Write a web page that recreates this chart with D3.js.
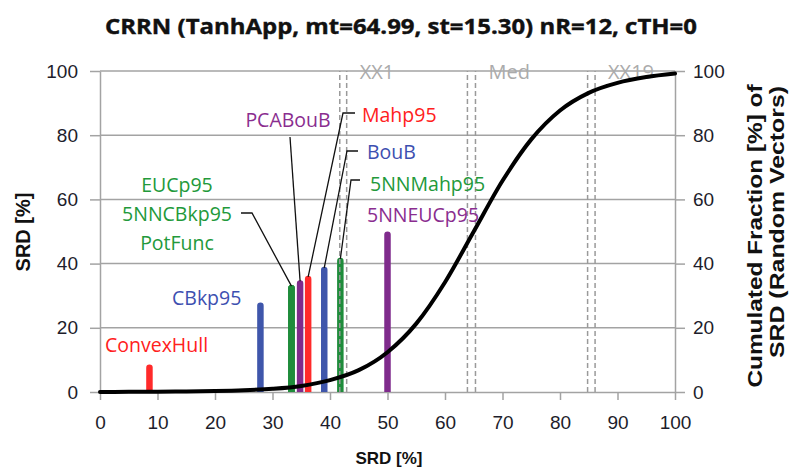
<!DOCTYPE html>
<html>
<head>
<meta charset="utf-8">
<script src="https://cdn.jsdelivr.net/npm/d3@7"></script>
<style>
  html, body { margin: 0; padding: 0; background: #fff; }
  svg { display: block; }
</style>
</head>
<body>
<svg id="chart" width="798" height="468"></svg>
<script>
// SRD of each method (bar is placed at its SRD and is as tall as its SRD)
const methodNames = ["ConvexHull", "CBkp95", "EUCp95", "5NNCBkp95", "PotFunc",
                     "PCABouB", "Mahp95", "BouB", "5NNMahp95", "5NNEUCp95"];
const methodSRD   = [8.6, 27.9, 33.3, 33.3, 33.3, 34.8, 36.2, 39.0, 41.8, 50.0];

// Cumulated fraction of SRD for random vectors
const cdfSRD  = [0, 5, 10, 15, 20, 25, 30, 35, 40, 45, 50, 55, 60, 65, 70, 75, 80, 85, 90, 95, 100];
const cdfFrac = [0.0, 0.04, 0.08, 0.15, 0.28, 0.53, 1.0, 1.9, 3.7, 6.8, 12.4, 21.3, 34.2, 50.0,
                 65.8, 78.7, 87.7, 93.2, 96.3, 98.1, 99.2];

// Reference markers, each drawn as a pair of dashed lines
const markerNames = ["XX1", "Med", "XX19"];
const markerLo    = [41.7, 63.9, 84.8];
const markerHi    = [42.9, 65.3, 86.1];

const xTicks = [0, 10, 20, 30, 40, 50, 60, 70, 80, 90, 100];
const yTicks = [0, 20, 40, 60, 80, 100];

const titleText = "CRRN (TanhApp, mt=64.99, st=15.30) nR=12, cTH=0";

// ---- styling ----
const RED = "#ff2a2a", BLUE = "#3f56ab", GREEN = "#1f8c3b", PURPLE = "#7f2b8c";
const barColor = {
  "ConvexHull": RED, "Mahp95": RED,
  "CBkp95": BLUE, "BouB": BLUE,
  "EUCp95": GREEN, "5NNCBkp95": GREEN, "PotFunc": GREEN, "5NNMahp95": GREEN,
  "PCABouB": PURPLE, "5NNEUCp95": PURPLE
};
const textColor = {
  [RED]: "#ff2020", [BLUE]: "#3d4fb0", [GREEN]: "#22993a", [PURPLE]: "#8a2d8f"
};

// label layout: anchor x, vertical centre, text-anchor, optional leader elbow
const labelLayout = {
  "ConvexHull": { x: 105, y: 345, a: "start" },
  "CBkp95":     { x: 172, y: 298, a: "start" },
  "EUCp95":     { x: 177, y: 185, a: "middle" },
  "5NNCBkp95":  { x: 177, y: 214, a: "middle", lead: [[241, 213], [252, 213]] },
  "PotFunc":    { x: 177, y: 243, a: "middle" },
  "PCABouB":    { x: 288, y: 120, a: "middle", lead: [[290, 137]] },
  "Mahp95":     { x: 362, y: 115, a: "start", lead: [[355, 113], [343, 113]] },
  "BouB":       { x: 367, y: 152, a: "start", lead: [[358, 151], [347, 151]] },
  "5NNMahp95":  { x: 370, y: 184, a: "start", lead: [[360, 180], [351, 180]] },
  "5NNEUCp95":  { x: 367, y: 215, a: "start" }
};

const svg = d3.select("#chart");
const x = d3.scaleLinear().domain([0, 100]).range([100, 675]);
const y = d3.scaleLinear().domain([0, 100]).range([392, 71]);

const GRID = "#a3a3a3";
const AXIS_FONT = "'Liberation Sans', Arial, sans-serif";
const LABEL_FONT = "'Open Sans', 'Noto Sans', sans-serif";

// title
svg.append("text")
  .attr("x", 401).attr("y", 34)
  .attr("text-anchor", "middle")
  .attr("font-family", LABEL_FONT)
  .attr("font-weight", "bold")
  .attr("font-size", 21)
  .attr("fill", "#111")
  .attr("stroke", "#111")
  .attr("stroke-width", 0.4)
  .attr("textLength", 592)
  .attr("lengthAdjust", "spacingAndGlyphs")
  .text(titleText);

// horizontal gridlines
svg.append("g").selectAll("line")
  .data(yTicks.filter(d => d > 0))
  .join("line")
  .attr("x1", x(0)).attr("x2", x(100))
  .attr("y1", d => y(d)).attr("y2", d => y(d))
  .attr("stroke", GRID).attr("stroke-width", 1.5);

// axes
function styleAxis(g) {
  g.select(".domain").attr("stroke", GRID).attr("stroke-width", 1.5);
  g.selectAll(".tick line").attr("stroke", GRID).attr("stroke-width", 1.5);
  g.selectAll(".tick text")
    .attr("font-family", AXIS_FONT)
    .attr("font-size", 19)
    .attr("fill", "#1d1d2b");
}

svg.append("g")
  .attr("transform", `translate(0,${y(0)})`)
  .call(d3.axisBottom(x).tickValues(xTicks).tickSize(8).tickPadding(16).tickSizeOuter(0))
  .call(styleAxis);

svg.append("g")
  .attr("transform", `translate(${x(0)},0)`)
  .call(d3.axisLeft(y).tickValues(yTicks).tickSize(10).tickPadding(12).tickSizeOuter(0))
  .call(styleAxis);

svg.append("g")
  .attr("transform", `translate(${x(100)},0)`)
  .call(d3.axisRight(y).tickValues(yTicks).tickSize(10).tickPadding(8).tickSizeOuter(0))
  .call(styleAxis);

// axis titles
svg.append("text")
  .attr("x", 389).attr("y", 464)
  .attr("text-anchor", "middle")
  .attr("font-family", AXIS_FONT)
  .attr("font-weight", "bold")
  .attr("font-size", 17)
  .attr("fill", "#111")
  .text("SRD [%]");

svg.append("text")
  .attr("transform", "translate(30,232) rotate(-90)")
  .attr("text-anchor", "middle")
  .attr("font-family", AXIS_FONT)
  .attr("font-weight", "bold")
  .attr("font-size", 20)
  .attr("fill", "#111")
  .text("SRD [%]");

svg.append("text")
  .attr("transform", "translate(762,236) rotate(-90)")
  .attr("text-anchor", "middle")
  .attr("font-family", AXIS_FONT)
  .attr("font-weight", "bold")
  .attr("font-size", 21)
  .attr("fill", "#111")
  .attr("textLength", 303)
  .attr("lengthAdjust", "spacingAndGlyphs")
  .text("Cumulated Fraction [%] of");

svg.append("text")
  .attr("transform", "translate(784,222) rotate(-90)")
  .attr("text-anchor", "middle")
  .attr("font-family", AXIS_FONT)
  .attr("font-weight", "bold")
  .attr("font-size", 21)
  .attr("fill", "#111")
  .attr("textLength", 272)
  .attr("lengthAdjust", "spacingAndGlyphs")
  .text("SRD (Random Vectors)");

// method bars
const bars = methodNames.map((n, i) => ({ name: n, v: methodSRD[i] }));
const BW = 6.5;
svg.append("g").selectAll("path")
  .data(bars)
  .join("path")
  .attr("d", d => {
    const cx = x(d.v), top = y(d.v), bot = y(0), r = BW / 2;
    return `M${cx - r},${bot} L${cx - r},${top + r} A${r},${r} 0 0 1 ${cx + r},${top + r} L${cx + r},${bot} Z`;
  })
  .attr("fill", d => barColor[d.name]);

// dashed reference markers
const markers = markerNames.map((n, i) => ({ name: n, lo: markerLo[i], hi: markerHi[i] }));
const mg = svg.append("g");
markers.forEach(m => {
  [m.lo, m.hi].forEach(v => {
    mg.append("line")
      .attr("x1", x(v)).attr("x2", x(v))
      .attr("y1", y(0)).attr("y2", y(100))
      .attr("stroke", "#9a9a9a")
      .attr("stroke-width", 1.5)
      .attr("stroke-dasharray", "5,3");
  });
  mg.append("text")
    .attr("x", x(m.hi) + 13).attr("y", y(100) + 8)
    .attr("font-family", LABEL_FONT)
    .attr("font-size", 20)
    .attr("fill", "#ababab")
    .text(m.name);
});

// cumulative curve
const curve = d3.line()
  .x((d, i) => x(cdfSRD[i]))
  .y(d => y(d))
  .curve(d3.curveMonotoneX);
svg.append("path")
  .attr("d", curve(cdfFrac))
  .attr("fill", "none")
  .attr("stroke", "#000")
  .attr("stroke-width", 4)
  .attr("stroke-linecap", "round");

// leader lines from labels to bar tops
const lg = svg.append("g");
bars.forEach(d => {
  const L = labelLayout[d.name];
  if (!L.lead) return;
  const pts = L.lead.concat([[x(d.v), y(d.v) + 1]]);
  lg.append("path")
    .attr("d", d3.line()(pts))
    .attr("fill", "none")
    .attr("stroke", "#111")
    .attr("stroke-width", 1.3);
});

// method labels
svg.append("g").selectAll("text")
  .data(bars)
  .join("text")
  .attr("x", d => labelLayout[d.name].x)
  .attr("y", d => labelLayout[d.name].y + 7)
  .attr("text-anchor", d => labelLayout[d.name].a)
  .attr("font-family", LABEL_FONT)
  .attr("font-size", 19.5)
  .attr("fill", d => textColor[barColor[d.name]])
  .text(d => d.name);
</script>
</body>
</html>
